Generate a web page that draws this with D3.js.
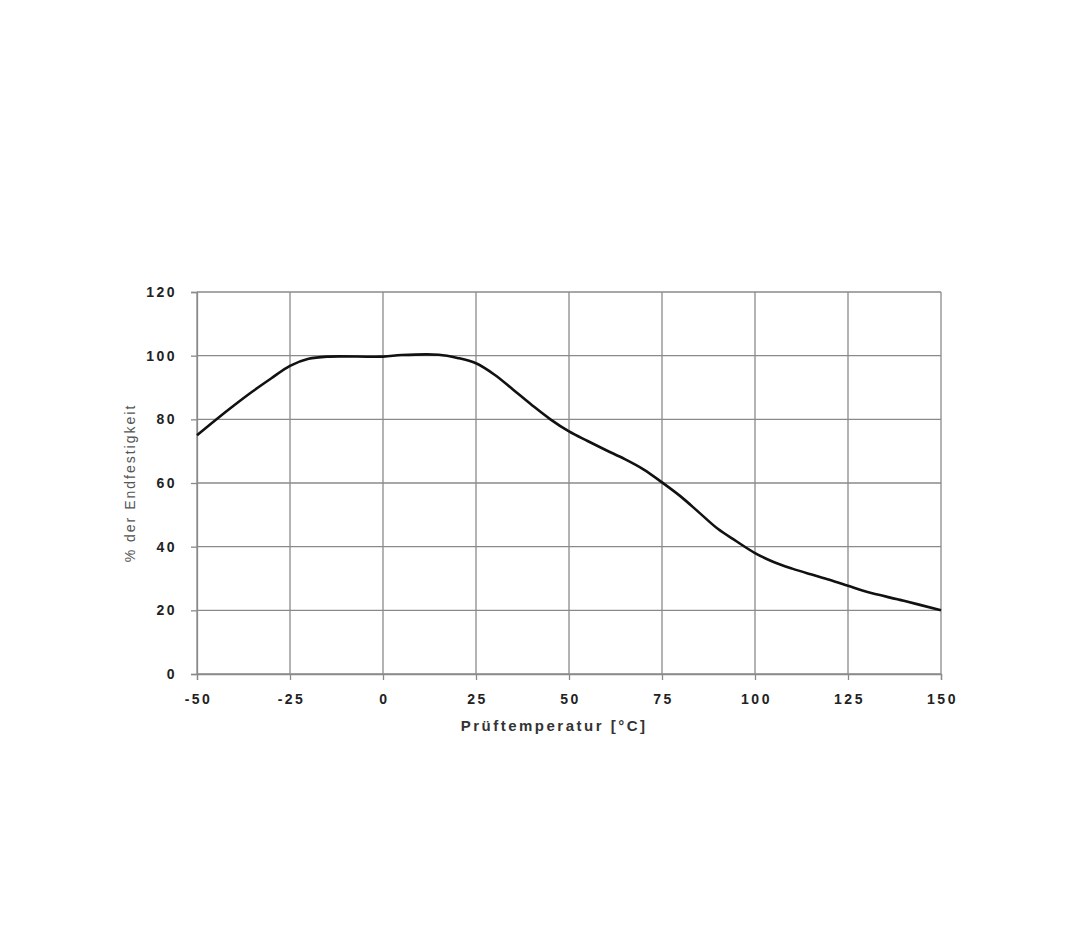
<!DOCTYPE html>
<html>
<head>
<meta charset="utf-8">
<script src="https://cdn.jsdelivr.net/npm/d3@7"></script>
<style>
  body { margin: 0; background: #fff; }
  svg text { font-family: "Liberation Sans", Arial, sans-serif; }
</style>
</head>
<body>
<div id="chart"></div>
<script>
// Prüftemperatur [°C] vs % der Endfestigkeit
const temps  = [-50, -45, -40, -35, -30, -25, -20, -15, 0, 5, 15, 20, 25, 30, 35, 40, 45, 50, 55, 60, 65, 70, 75, 80, 85, 90, 95, 100, 105, 110, 115, 120, 125, 130, 140, 150];
const values = [75, 79.8, 84.4, 88.8, 92.9, 96.8, 99, 99.7, 99.7, 100.2, 100.3, 99.3, 97.6, 94, 89.3, 84.5, 80, 76.2, 73.2, 70.3, 67.5, 64.3, 60.2, 55.8, 50.7, 45.6, 41.7, 38, 35.2, 33.1, 31.3, 29.6, 27.7, 25.8, 23, 20];
const xTicks = [-50, -25, 0, 25, 50, 75, 100, 125, 150];
const yTicks = [0, 20, 40, 60, 80, 100, 120];

const W = 1080, H = 939;
const margin = {top: 292, right: 139, bottom: 265, left: 197};
const width = W - margin.left - margin.right,
      height = H - margin.top - margin.bottom;

const svg = d3.select("#chart").append("svg")
  .attr("width", W).attr("height", H)
  .append("g")
  .attr("transform", "translate(" + margin.left + "," + margin.top + ")");

const x = d3.scaleLinear().domain([-50, 150]).range([0, width]);
const y = d3.scaleLinear().domain([0, 120]).range([height, 0]);

// grid
svg.append("g").selectAll("line").data(xTicks).join("line")
  .attr("x1", d => x(d)).attr("x2", d => x(d))
  .attr("y1", 0).attr("y2", height)
  .attr("stroke", "#8a8a8a").attr("stroke-width", 1.3);
svg.append("g").selectAll("line").data(yTicks).join("line")
  .attr("x1", 0).attr("x2", width)
  .attr("y1", d => y(d)).attr("y2", d => y(d))
  .attr("stroke", "#8a8a8a").attr("stroke-width", 1.3);

// axes with little outside ticks, plain hyphen for negatives
const fmt = d => String(d);
const xAxis = svg.append("g")
  .attr("transform", "translate(0," + height + ")")
  .call(d3.axisBottom(x).tickValues(xTicks).tickFormat(fmt).tickSize(6).tickPadding(14));
const yAxis = svg.append("g")
  .call(d3.axisLeft(y).tickValues(yTicks).tickFormat(fmt).tickSize(6).tickPadding(14));

[xAxis, yAxis].forEach(a => {
  a.select(".domain").attr("stroke", "#8a8a8a").attr("stroke-width", 1.3);
  a.selectAll(".tick line").attr("stroke", "#8a8a8a").attr("stroke-width", 1.3);
  a.selectAll("text")
    .attr("fill", "#222")
    .style("font-size", "14px")
    .style("font-weight", "bold")
    .style("letter-spacing", "2.5px");
});
xAxis.selectAll("text").attr("dx", "1px");

// curve
const line = d3.line()
  .x((d, i) => x(temps[i]))
  .y(d => y(d))
  .curve(d3.curveCatmullRom.alpha(0.5));

svg.append("path")
  .datum(values)
  .attr("d", line)
  .attr("fill", "none")
  .attr("stroke", "#111")
  .attr("stroke-width", 2.6);

// axis titles
svg.append("text")
  .attr("x", x(46))
  .attr("y", height + 57)
  .attr("text-anchor", "middle")
  .attr("fill", "#333")
  .style("font-size", "15px")
  .style("font-weight", "bold")
  .style("letter-spacing", "2.5px")
  .text("Prüftemperatur [°C]");

svg.append("text")
  .attr("transform", "translate(-62," + y(60) + ") rotate(-90)")
  .attr("text-anchor", "middle")
  .attr("fill", "#555")
  .style("font-size", "14px")
  .style("letter-spacing", "2px")
  .text("% der Endfestigkeit");
</script>
</body>
</html>
